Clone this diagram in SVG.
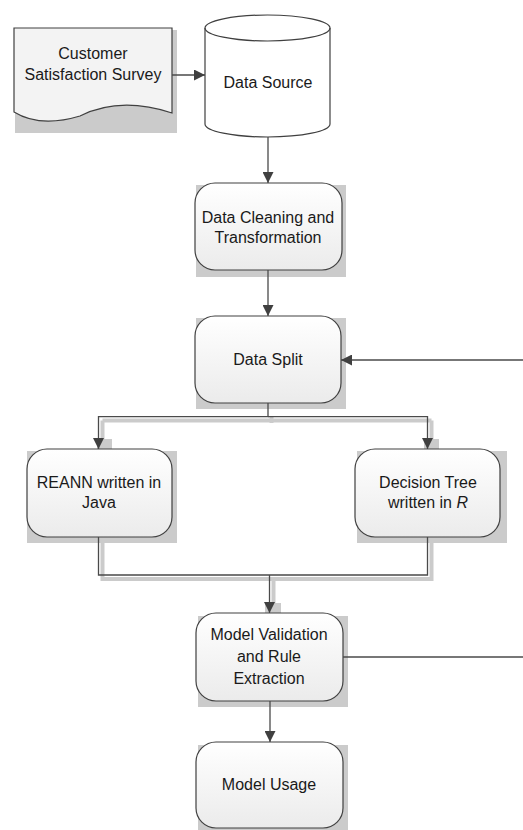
<svg xmlns="http://www.w3.org/2000/svg" width="523" height="830" viewBox="0 0 523 830">
<defs>
<linearGradient id="nodeFill" x1="0" y1="0" x2="0" y2="1">
<stop offset="0" stop-color="#ffffff"/>
<stop offset="1" stop-color="#ebebeb"/>
</linearGradient>
<marker id="arrow" viewBox="0 0 10 10" refX="10" refY="5" markerWidth="11" markerHeight="11" markerUnits="userSpaceOnUse" orient="auto">
<path d="M0,0 L10,5 L0,10 Z" fill="#404040"/>
</marker>
</defs>
<style>
.shadow{fill:#cbcbcb;stroke:none}
.node{fill:url(#nodeFill);stroke:#404040;stroke-width:1.2}
.lbl{font-family:"Liberation Sans",Arial,sans-serif;font-size:16px;fill:#1a1a1a;text-anchor:middle}
.conn{fill:none;stroke:#4a4a4a;stroke-width:1.3}
.cshadow{fill:none;stroke:#cbcbcb;stroke-width:4}
</style>
<rect width="523" height="830" fill="#ffffff"/>

<g id="connector-shadows">
<path class="cshadow" d="M271.5,416 V423 M102.5,420.5 H431.5 M102.5,420.5 V445 M431.5,420.5 V445"/>
<rect class="shadow" x="97" y="439" width="15" height="13"/>
<rect class="shadow" x="424" y="439" width="15" height="13"/>
<path class="cshadow" d="M102.5,540 V579 H431.5 V540 M273.5,579 V612"/>
<rect class="shadow" x="265" y="603" width="16" height="12"/>
</g>

<g id="survey">
<rect class="shadow" x="15" y="30" width="162" height="103"/>
<path d="M14,28 H172 V113 Q120,96 80,116 Q40,128 14,112 Z" fill="#f3f3f3" stroke="#404040" stroke-width="1.2"/>
<text class="lbl" x="93" y="59">Customer</text>
<text class="lbl" x="93" y="80">Satisfaction Survey</text>
</g>

<g id="datasource">
<path d="M205,28 A62.5,13 0 0 1 330,28 V124 A62.5,13 0 0 1 205,124 Z" fill="#ffffff" stroke="#404040" stroke-width="1.2"/>
<path d="M205,28 A62.5,13 0 0 0 330,28" fill="none" stroke="#404040" stroke-width="1.2"/>
<text class="lbl" x="268" y="88">Data Source</text>
</g>

<g id="cleaning">
<rect class="shadow" x="196" y="185" width="150" height="92"/>
<rect class="node" x="195" y="183" width="147" height="87" rx="20"/>
<text class="lbl" x="268" y="222.7">Data Cleaning and</text>
<text class="lbl" x="268" y="242.7">Transformation</text>
</g>

<g id="datasplit">
<rect class="shadow" x="196" y="318" width="150" height="91"/>
<rect class="node" x="195" y="316" width="146" height="87" rx="20"/>
<text class="lbl" x="268" y="365">Data Split</text>
</g>

<g id="reann">
<rect class="shadow" x="27" y="451" width="150" height="92"/>
<rect class="node" x="27" y="449" width="145" height="88" rx="20"/>
<text class="lbl" x="99" y="488.3">REANN written in</text>
<text class="lbl" x="99" y="508.3">Java</text>
</g>

<g id="decisiontree">
<rect class="shadow" x="357" y="451" width="150" height="92"/>
<rect class="node" x="355" y="449" width="145" height="88" rx="20"/>
<text class="lbl" x="428" y="488.3">Decision Tree</text>
<text class="lbl" x="428" y="508.3">written in <tspan font-style="italic">R</tspan></text>
</g>

<g id="validation">
<rect class="shadow" x="198" y="616" width="150" height="91"/>
<rect class="node" x="196" y="613" width="147" height="88" rx="20"/>
<text class="lbl" x="269" y="640">Model Validation</text>
<text class="lbl" x="269" y="662">and Rule</text>
<text class="lbl" x="269" y="683.5">Extraction</text>
</g>

<g id="usage">
<rect class="shadow" x="198" y="745" width="150" height="90"/>
<rect class="node" x="196" y="742" width="147" height="86" rx="20"/>
<text class="lbl" x="269" y="790">Model Usage</text>
</g>

<g id="connectors">
<line class="conn" x1="172" y1="75" x2="205" y2="75" marker-end="url(#arrow)"/>
<line class="conn" x1="268" y1="137" x2="268" y2="183" marker-end="url(#arrow)"/>
<line class="conn" x1="268" y1="270" x2="268" y2="316" marker-end="url(#arrow)"/>
<line class="conn" x1="523" y1="360" x2="341" y2="360" marker-end="url(#arrow)"/>
<path class="conn" d="M268,403 V416.7 H98.5 V449" marker-end="url(#arrow)"/>
<path class="conn" d="M268,416.7 H427.5 V449" marker-end="url(#arrow)"/>
<path class="conn" d="M98.5,537 V575 H427.5 V537"/>
<line class="conn" x1="269.5" y1="575" x2="269.5" y2="613" marker-end="url(#arrow)"/>
<line class="conn" x1="343" y1="657" x2="523" y2="657"/>
<line class="conn" x1="270" y1="701" x2="270" y2="742" marker-end="url(#arrow)"/>
</g>
</svg>
